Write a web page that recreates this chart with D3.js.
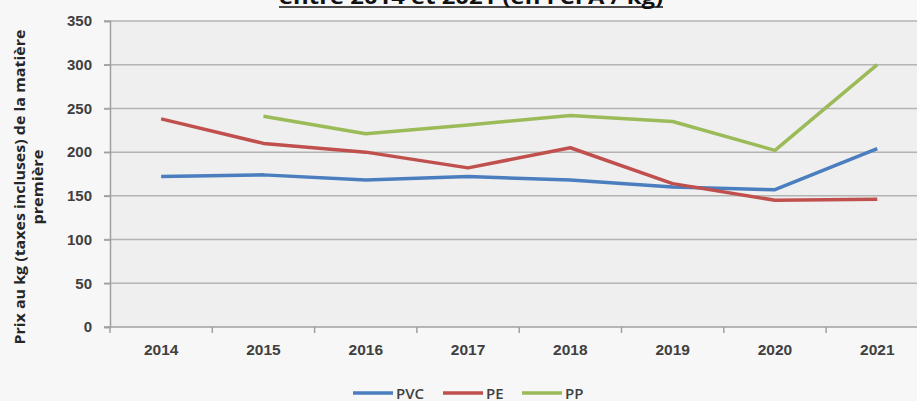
<!DOCTYPE html>
<html>
<head>
<meta charset="utf-8">
<script src="https://cdn.jsdelivr.net/npm/d3@7"></script>
<style>
  html, body { margin: 0; padding: 0; background: #f7f7f7; }
  svg { display: block; font-family: "Liberation Sans Narrow", "Open Sans", "Liberation Sans", sans-serif; }
</style>
</head>
<body>
<svg id="chart"></svg>
<script>
const years = ['2014', '2015', '2016', '2017', '2018', '2019', '2020', '2021'];
const pvc = [172, 174, 168, 172, 168, 160, 157, 204];
const pe = [238, 210, 200, 182, 205, 164, 145, 146];
const pp = [null, 241, 221, 231, 242, 235, 202, 300];
const yTicks = [0, 50, 100, 150, 200, 250, 300, 350];

const series = [
    { name: 'PVC', values: pvc, color: '#4a7ebf' },
    { name: 'PE', values: pe, color: '#c0504d' },
    { name: 'PP', values: pp, color: '#9bbb59' }
];

const width = 917, height = 401;
const margin = { top: 21, left: 110, bottom: 74 };

const svg = d3.select('#chart')
    .attr('width', width)
    .attr('height', height);

// band scale runs past the right edge, the picture is cropped there
const x = d3.scaleBand()
    .domain(years)
    .range([margin.left, margin.left + 8 * 102.3]);

const y = d3.scaleLinear()
    .domain([0, 350])
    .range([height - margin.bottom, margin.top]);

// plot area background
svg.append('rect')
    .attr('x', margin.left)
    .attr('y', y(350))
    .attr('width', width - margin.left)
    .attr('height', y(0) - y(350))
    .attr('fill', '#efefef');

// gridlines
svg.append('g')
    .selectAll('line')
    .data(yTicks.filter(d => d > 0))
    .join('line')
    .attr('x1', margin.left - 6)
    .attr('x2', width)
    .attr('y1', d => y(d))
    .attr('y2', d => y(d))
    .attr('stroke', '#b4b4b4')
    .attr('stroke-width', 1.5);

// y axis
const yAxis = svg.append('g')
    .attr('transform', `translate(${margin.left}, 0)`)
    .call(d3.axisLeft(y).tickValues(yTicks).tickSize(6).tickPadding(12));
yAxis.select('.domain').attr('stroke', '#a0a0a0').attr('stroke-width', 1.5);
yAxis.selectAll('.tick line').attr('stroke', '#a0a0a0').attr('stroke-width', 1.5);
yAxis.selectAll('.tick text')
    .attr('fill', '#404040')
    .style('font-size', '15px')
    .style('font-weight', '600');

// x axis
const xAxis = svg.append('g')
    .attr('transform', `translate(0, ${y(0)})`)
    .call(d3.axisBottom(x).tickSize(0).tickPadding(17));
xAxis.select('.domain').remove();
xAxis.selectAll('.tick text')
    .attr('fill', '#404040')
    .style('font-size', '15.5px')
    .style('font-weight', '600');

svg.append('line')
    .attr('x1', margin.left - 6)
    .attr('x2', width)
    .attr('y1', y(0))
    .attr('y2', y(0))
    .attr('stroke', '#a0a0a0')
    .attr('stroke-width', 1.5);

svg.append('g')
    .selectAll('line')
    .data(years)
    .join('line')
    .attr('x1', d => x(d))
    .attr('x2', d => x(d))
    .attr('y1', y(0))
    .attr('y2', y(0) + 6)
    .attr('stroke', '#a0a0a0')
    .attr('stroke-width', 1.5);

// lines
const line = d3.line()
    .defined(d => d.v != null)
    .x(d => x(d.year) + x.bandwidth() / 2)
    .y(d => y(d.v));

series.forEach(s => {
    svg.append('path')
        .datum(years.map((year, i) => ({ year, v: s.values[i] })))
        .attr('fill', 'none')
        .attr('stroke', s.color)
        .attr('stroke-width', 3.5)
        .attr('stroke-linejoin', 'round')
        .attr('d', line);
});

// y axis title
const yTitle = svg.append('g')
    .attr('transform', `translate(25, ${y(160)}) rotate(-90)`)
    .attr('text-anchor', 'middle')
    .attr('fill', '#262626')
    .style('font-size', '14px')
    .style('font-weight', 'bold');
yTitle.append('text')
    .attr('textLength', 315)
    .attr('lengthAdjust', 'spacingAndGlyphs')
    .text('Prix au kg (taxes incluses) de la matière');
yTitle.append('text')
    .attr('y', 18)
    .attr('textLength', 75)
    .attr('lengthAdjust', 'spacingAndGlyphs')
    .text('première');

// title, cropped at the top like the source
svg.append('text')
    .attr('x', 471)
    .attr('y', 4)
    .attr('text-anchor', 'middle')
    .attr('textLength', 384)
    .attr('lengthAdjust', 'spacingAndGlyphs')
    .attr('fill', '#111')
    .style('font-size', '19px')
    .style('font-weight', 'bold')
    .text('entre 2014 et 2021 (en FCFA / kg)');
svg.append('line')
    .attr('x1', 279)
    .attr('x2', 663)
    .attr('y1', 7)
    .attr('y2', 7)
    .attr('stroke', '#111')
    .attr('stroke-width', 1.5);

// legend
const legendX = [353, 443, 522];
const legend = svg.append('g');
series.forEach((s, i) => {
    const g = legend.append('g').attr('transform', `translate(${legendX[i]}, 393)`);
    g.append('line')
        .attr('x1', 0).attr('x2', 40)
        .attr('stroke', s.color)
        .attr('stroke-width', 3.5);
    g.append('text')
        .attr('x', 43)
        .attr('y', 5.5)
        .attr('fill', '#404040')
        .style('font-size', '15px')
        .style('font-weight', '600')
        .text(s.name);
});
</script>
</body>
</html>
